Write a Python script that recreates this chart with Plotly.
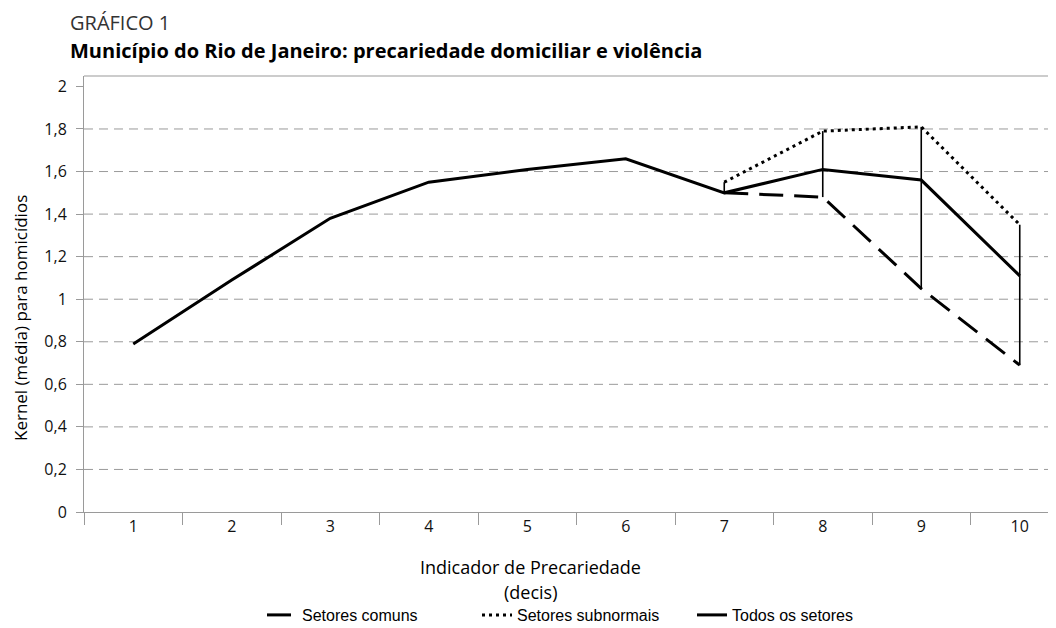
import plotly.graph_objects as go

# ---- data ----
categories = ["1", "2", "3", "4", "5", "6", "7", "8", "9", "10"]
todos = [0.79, 1.09, 1.38, 1.55, 1.61, 1.66, 1.50, 1.61, 1.56, 1.11]
comuns = [None, None, None, None, None, None, 1.50, 1.48, 1.05, 0.69]
subnormais = [None, None, None, None, None, None, 1.55, 1.79, 1.81, 1.35]
y_ticks = [0, 0.2, 0.4, 0.6, 0.8, 1, 1.2, 1.4, 1.6, 1.8, 2]
grid_vals = [0.2, 0.4, 0.6, 0.8, 1, 1.2, 1.4, 1.6, 1.8]

title_top = "GRÁFICO 1"
title_main = "Município do Rio de Janeiro: precariedade domiciliar e violência"
y_title = "Kernel (média) para homicídios"
x_title_1 = "Indicador de Precariedade"
x_title_2 = "(decis)"

# the page has a default 8px body margin: figure pixel = page pixel - 8
OFF = 8
W, H = 1056, 628
# plot area in page pixels: x 84..1056, y 76..512
L, T = 84 - OFF, 76 - OFF
R = W - (1056 - OFF)
B = H - (512 - OFF)

# high-low lines (min to max of the series at each category)
hl_x, hl_y = [], []
for c, a, b, t in zip(categories, comuns, subnormais, todos):
    vals = [v for v in (a, b, t) if v is not None]
    if len(vals) > 1:
        hl_x += [c, c, None]
        hl_y += [min(vals), max(vals), None]

fig = go.Figure()
fig.add_trace(go.Scatter(x=hl_x, y=hl_y, mode="lines",
                         line=dict(color="black", width=1.6),
                         showlegend=False, hoverinfo="skip"))
fig.add_trace(go.Scatter(x=categories, y=comuns, mode="lines", name="Setores comuns",
                         line=dict(color="black", width=3, dash="24px,11px")))
fig.add_trace(go.Scatter(x=categories, y=subnormais, mode="lines", name="Setores subnormais",
                         line=dict(color="black", width=3, dash="3px,4px")))
fig.add_trace(go.Scatter(x=categories, y=todos, mode="lines", name="Todos os setores",
                         line=dict(color="black", width=3)))

# dashed horizontal gridlines
for g in grid_vals:
    fig.add_shape(type="line", xref="paper", x0=0, x1=1, yref="y", y0=g, y1=g,
                  line=dict(color="#9a9a9a", width=1, dash="9px,6px"), layer="below")
# top border
fig.add_shape(type="line", xref="paper", x0=0, x1=1, yref="paper", y0=1, y1=1,
              line=dict(color="#9a9a9a", width=1.2), layer="below")

tick_font = dict(family="Open Sans", size=16, color="#111")

PH = H - T - B  # plot height in px
PW = W - L - R


def fx(page_x):
    return (page_x - OFF - L) / PW


def fy(page_y):
    return (H - B - (page_y - OFF)) / PH


fig.update_layout(
    width=W, height=H,
    margin=dict(l=L, r=R, t=T, b=B, autoexpand=False),
    paper_bgcolor="white", plot_bgcolor="white",
    separators=",.",
    xaxis=dict(type="category", categoryorder="array", categoryarray=categories,
               range=[-0.5, 9.368], tickson="boundaries",
               ticks="outside", ticklen=12, tickcolor="#9a9a9a", tickwidth=1,
               showline=True, linecolor="#9a9a9a", linewidth=1,
               showgrid=False, zeroline=False, tickfont=tick_font),
    yaxis=dict(range=[0, 2.049], tickvals=y_ticks, ticks="outside", ticklen=7,
               tickcolor="#9a9a9a", showline=True, linecolor="#9a9a9a", linewidth=1,
               showgrid=False, zeroline=False, tickfont=tick_font, ticklabelstandoff=6),
    legend=dict(orientation="h", xref="container", yref="container",
                x=(262 - OFF) / W, y=1 - (615 - OFF) / H,
                xanchor="left", yanchor="middle",
                entrywidth=170, entrywidthmode="pixels",
                font=dict(family="Liberation Sans", size=16, color="black"),
                bgcolor="rgba(0,0,0,0)"),
    showlegend=True,
)


def add_px_annotation(text, px, py, size, color="black", xanchor="center", angle=0, family="Open Sans"):
    fig.add_annotation(xref="paper", yref="paper", showarrow=False,
                       x=fx(px), y=fy(py),
                       text=text, textangle=angle, xanchor=xanchor, yanchor="middle",
                       font=dict(family=family, size=size, color=color))


add_px_annotation(title_top, 68, 23, 20, color="#333", xanchor="left")
add_px_annotation("<b>" + title_main + "</b>", 68, 51, 20, xanchor="left")
add_px_annotation(y_title, 20, 318, 17, angle=-90)
add_px_annotation(x_title_1, 530, 567, 18)
add_px_annotation(x_title_2, 530, 592, 18)

fig.write_html("out.html")
